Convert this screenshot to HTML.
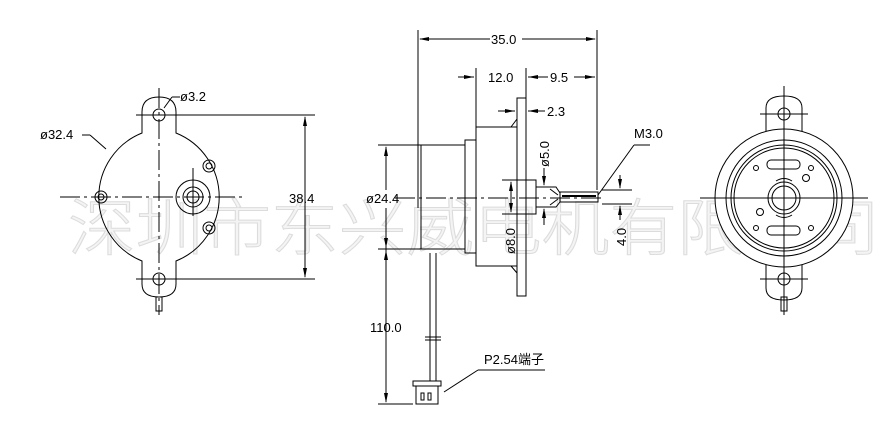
<!DOCTYPE html>
<html><head><meta charset="utf-8"><style>
html,body{margin:0;padding:0;background:#fff;width:884px;height:432px;overflow:hidden}
svg{display:block}
text{font-family:"Liberation Sans","Noto Sans CJK SC",sans-serif;fill:#000}
</style></head><body>
<svg width="884" height="432" viewBox="0 0 884 432" xmlns="http://www.w3.org/2000/svg">
<text x="68" y="250" font-size="62" textLength="812" lengthAdjust="spacingAndGlyphs" style="fill:#f4f4f4;stroke:#dcdcdc;stroke-width:1;font-family:'Noto Sans CJK SC',sans-serif;font-weight:300">深圳市东兴威电机有限公司</text>
<g stroke="#000" stroke-width="1" fill="none">
<!-- LEFT VIEW -->
<path d="M142,133 L142,112 Q142,97 159,97 Q176,97 176,112 L176,133 A69,69 0 0 1 176,261 L176,284 Q176,297 159,297 Q142,297 142,284 L142,261 A69,69 0 0 1 142,133 Z"/>
<circle cx="159" cy="115" r="6"/><circle cx="159" cy="279" r="6"/>
<rect x="156" y="297" width="6" height="14"/>
<line x1="159" y1="88" x2="159" y2="315" stroke-dasharray="20,4,3,4"/>
<line x1="60" y1="197" x2="245" y2="197" stroke-dasharray="20,4,3,4"/>
<line x1="193" y1="168" x2="193" y2="216"/>
<circle cx="193" cy="197" r="17"/><circle cx="193" cy="197" r="10"/><circle cx="193" cy="197" r="6"/>
<circle cx="209" cy="166" r="6"/><circle cx="209" cy="166" r="3"/>
<circle cx="101" cy="197" r="6"/><circle cx="101" cy="197" r="3"/>
<circle cx="209" cy="228" r="6"/><circle cx="209" cy="228" r="3"/>
<line x1="136" y1="115" x2="315" y2="115"/><line x1="136" y1="279" x2="315" y2="279"/>
<line x1="305" y1="117" x2="305" y2="277"/>
<line x1="82" y1="135" x2="90" y2="135"/><line x1="90" y1="135" x2="106" y2="149"/>
<line x1="180" y1="97" x2="172" y2="97"/><line x1="172" y1="97" x2="164" y2="108"/>
<!-- MIDDLE VIEW -->
<line x1="418" y1="30" x2="418" y2="175"/><line x1="597" y1="30" x2="597" y2="190"/>
<line x1="420" y1="39" x2="490" y2="39"/><line x1="522" y1="39" x2="595" y2="39"/>
<line x1="476" y1="68" x2="476" y2="127"/><line x1="526" y1="68" x2="526" y2="98"/>
<line x1="458" y1="77" x2="474" y2="77"/><line x1="528" y1="77" x2="548" y2="77"/><line x1="574" y1="77" x2="595" y2="77"/>
<line x1="498" y1="111" x2="515" y2="111"/><line x1="528" y1="111" x2="545" y2="111"/>
<rect x="517" y="98" width="9" height="198"/>
<path d="M517,127 L476,127 L476,266 L517,266"/>
<path d="M511,127 L517,119 M511,266 L517,273"/>
<rect x="465" y="140" width="11" height="113"/>
<rect x="421" y="145" width="44" height="104"/>
<line x1="418" y1="175" x2="418" y2="208"/>
<rect x="526" y="180" width="10" height="34"/>
<path d="M536,187 L556,187 L560,193 L560,202 L556,207 L536,207"/>
<path d="M550,189 L558,195 M550,205 L558,199"/>
<rect x="560" y="192" width="38" height="10"/>
<line x1="562" y1="196" x2="596" y2="196" stroke-width="2"/>
<line x1="395" y1="198" x2="605" y2="198" stroke-dasharray="20,4,3,4"/>
<line x1="378" y1="145" x2="421" y2="145"/><line x1="378" y1="249" x2="421" y2="249"/>
<line x1="386" y1="147" x2="386" y2="190"/><line x1="386" y1="208" x2="386" y2="402"/>
<line x1="502" y1="180" x2="526" y2="180"/><line x1="502" y1="214" x2="526" y2="214"/>
<line x1="511" y1="182" x2="511" y2="212"/>
<line x1="544" y1="168" x2="544" y2="185"/><line x1="544" y1="209" x2="544" y2="225"/>
<line x1="602" y1="190" x2="632" y2="190"/><line x1="602" y1="204" x2="632" y2="204"/>
<line x1="620" y1="175" x2="620" y2="188"/><line x1="620" y1="206" x2="620" y2="220"/>
<line x1="598" y1="195" x2="634" y2="145"/><line x1="634" y1="145" x2="650" y2="145"/>
<line x1="430" y1="253" x2="430" y2="381"/><line x1="436" y1="253" x2="436" y2="381"/>
<path d="M425,337 L441,337 M425,340 L441,340"/>
<rect x="413" y="381" width="28" height="5"/>
<rect x="416" y="386" width="22" height="18"/>
<rect x="421" y="393" width="3" height="7"/><rect x="428" y="393" width="3" height="7"/>
<line x1="378" y1="404" x2="413" y2="404"/>
<line x1="478" y1="370" x2="545" y2="370"/><line x1="478" y1="370" x2="444" y2="392"/>
<!-- RIGHT VIEW -->
<path d="M766,140 L766,108 Q766,96 784,96 Q802,96 802,108 L802,140"/>
<path d="M766,256 L766,288 Q766,300 784,300 Q802,300 802,288 L802,256"/>
<circle cx="784" cy="114" r="6"/><circle cx="784" cy="279" r="6"/>
<rect x="781" y="297" width="6" height="14"/>
<circle cx="784" cy="198" r="69" fill="#fff"/>
<circle cx="784" cy="198" r="58"/><circle cx="784" cy="198" r="53"/><circle cx="784" cy="198" r="50"/>
<circle cx="784" cy="198" r="16"/><circle cx="784" cy="198" r="12"/>
<rect x="767" y="160" width="33" height="9" rx="4"/><rect x="767" y="226" width="33" height="9" rx="4"/>
<path d="M776,181 Q784,176 792,181 M776,215 Q784,220 792,215"/>
<circle cx="756" cy="168" r="2.5"/><circle cx="811" cy="168" r="2.5"/>
<circle cx="756" cy="228" r="2.5"/><circle cx="811" cy="228" r="2.5"/>
<circle cx="806" cy="178" r="3.5"/><circle cx="760" cy="212" r="3.5"/>
<line x1="784" y1="86" x2="784" y2="315"/>
<line x1="700" y1="198" x2="868" y2="198"/>
<line x1="760" y1="114" x2="808" y2="114"/><line x1="760" y1="279" x2="808" y2="279"/>
</g>
<g fill="#000">
<path d="M305,116 l-2,10 h4z M305,278 l-2,-10 h4z"/>
<path d="M419,39 l10,-2 v4z M596,39 l-10,-2 v4z"/>
<path d="M474,77 l-10,-2 v4z M528,77 l10,-2 v4z M595,77 l-10,-2 v4z"/>
<path d="M515,111 l-10,-2 v4z M528,111 l10,-2 v4z"/>
<path d="M386,146 l-2,10 h4z M386,248 l-2,-10 h4z M386,250 l-2,10 h4z M386,403 l-2,-10 h4z"/>
<path d="M511,181 l-2,10 h4z M511,213 l-2,-10 h4z"/>
<path d="M544,186 l-2,-10 h4z M544,208 l-2,10 h4z"/>
<path d="M620,189 l-2,-10 h4z M620,205 l-2,10 h4z"/>
</g>
<g font-size="13">
<text x="180" y="101">ø3.2</text>
<text x="40" y="139">ø32.4</text>
<text x="289" y="203">38.4</text>
<text x="491" y="44">35.0</text>
<text x="488" y="82">12.0</text>
<text x="550" y="82">9.5</text>
<text x="547" y="116">2.3</text>
<text x="634" y="138">M3.0</text>
<text x="366" y="203">ø24.4</text>
<text x="370" y="332">110.0</text>
<text x="484" y="364">P2.54端子</text>
<text transform="translate(549,167) rotate(-90)">ø5.0</text>
<text transform="translate(515,254) rotate(-90)">ø8.0</text>
<text transform="translate(626,246) rotate(-90)">4.0</text>
</g>
</svg>
</body></html>
